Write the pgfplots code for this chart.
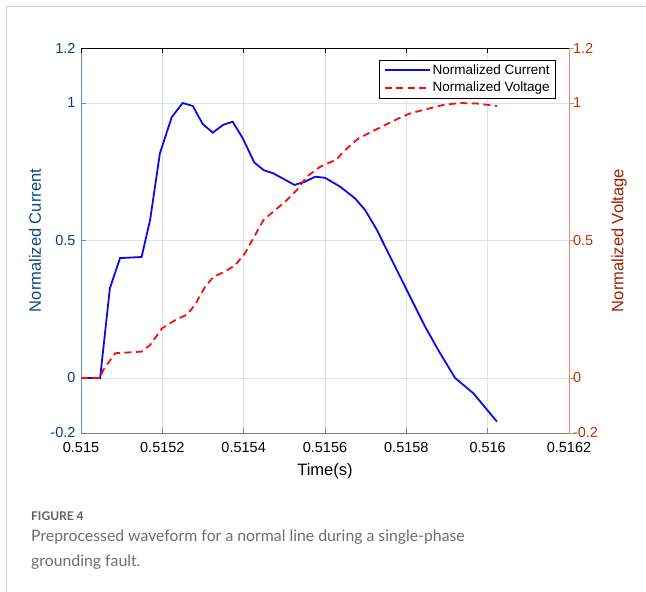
\documentclass[border=0pt]{standalone}
\usepackage{pgfplots}
\pgfplotsset{compat=1.18}
\usepackage{pgfplotstable}
\usepackage{fontspec}
\setmainfont{Liberation Sans}
\newfontfamily\capfont{Lato}

\definecolor{curblue}{RGB}{10,10,235}
\definecolor{volred}{RGB}{255,10,10}
\definecolor{lefttick}{RGB}{8,62,125}
\definecolor{leftlabel}{RGB}{10,72,125}
\definecolor{leftline}{RGB}{80,150,200}
\definecolor{righttick}{RGB}{185,55,5}
\definecolor{rightlabel}{RGB}{160,30,0}
\definecolor{rightline}{RGB}{225,140,100}
\definecolor{bottomline}{RGB}{120,128,136}
\definecolor{xgrid}{RGB}{222,226,232}
\definecolor{ygrid}{RGB}{210,230,242}
\definecolor{framegray}{RGB}{210,210,210}
\definecolor{capgray}{RGB}{110,110,110}
\definecolor{figgray}{RGB}{95,95,95}

% time in microseconds after 0.515 s
\pgfplotstableread{
t v
0 0
47 0
71 0.326
96 0.436
149 0.440
170 0.575
194 0.817
223 0.948
250 1.000
275 0.989
299 0.924
324 0.892
349 0.920
373 0.932
398 0.871
426 0.784
449 0.756
473 0.744
498 0.724
525 0.702
551 0.714
576 0.732
600 0.728
637 0.696
674 0.653
699 0.610
727 0.540
764 0.430
801 0.320
846 0.187
883 0.090
920 0.000
965 -0.056
1023 -0.159
}\current

\pgfplotstableread{
t v
0 0
47 0
55 0.030
84 0.090
149 0.096
170 0.120
199 0.180
231 0.210
260 0.230
280 0.265
305 0.332
326 0.368
354 0.387
379 0.410
403 0.453
432 0.530
449 0.575
473 0.605
502 0.641
531 0.684
555 0.732
588 0.768
629 0.795
645 0.823
682 0.871
715 0.896
748 0.920
781 0.944
809 0.962
850 0.978
891 0.993
932 1.000
973 0.998
1023 0.989
}\voltage

\begin{document}
\begin{tikzpicture}[x=1pt,y=1pt]
\useasboundingbox (0,0) rectangle (646,592);
\draw[framegray, line width=1pt] (6,0) -- (6,585) -- (646,585);

\begin{axis}[
  at={(81pt,159pt)}, anchor=south west,
  scale only axis, width=488pt, height=385pt,
  xmin=0, xmax=1200, ymin=-0.2, ymax=1.2,
  axis x line*=bottom, axis y line*=left,
  every outer x axis line/.append style={-, draw=bottomline, line width=0.8pt},
  every outer y axis line/.append style={-, draw=leftline, line width=0.8pt},
  xtick={0,200,400,600,800,1000,1200},
  xticklabels={0.515,0.5152,0.5154,0.5156,0.5158,0.516,0.5162},
  ytick={-0.2,0,0.5,1,1.2},
  yticklabels={-0.2,0,0.5,1,1.2},
  tick align=inside, major tick length=5pt,
  x tick style={draw=bottomline, line width=0.6pt},
  y tick style={draw=leftline, line width=0.6pt},
  xticklabel style={font=\fontsize{14.5}{16}\selectfont, text=black, yshift=-6pt},
  yticklabel style={font=\fontsize{14.5}{16}\selectfont, text=lefttick, xshift=-2pt},
  grid=major,
  x grid style={xgrid, line width=0.8pt},
  y grid style={ygrid, line width=0.8pt},
  xlabel={Time(s)},
  xlabel style={at={(axis description cs:0.5,-0.0987)}, anchor=center, font=\fontsize{16.5}{19}\selectfont, text=black},
  ylabel={Normalized Current},
  ylabel style={at={(axis description cs:-0.0943,0.5)}, anchor=center, rotate=0, font=\fontsize{16.5}{19}\selectfont, text=leftlabel},
]
\end{axis}

\begin{axis}[
  at={(81pt,159pt)}, anchor=south west,
  scale only axis, width=488pt, height=385pt,
  xmin=0, xmax=1200, ymin=-0.2, ymax=1.2,
  axis x line*=top, axis y line*=right,
  every outer x axis line/.append style={-, draw=black, line width=0.8pt},
  every outer y axis line/.append style={-, draw=rightline, line width=0.8pt},
  xtick={0,200,400,600,800,1000,1200},
  xticklabels={},
  ytick={-0.2,0,0.5,1,1.2},
  yticklabels={-0.2,0,0.5,1,1.2},
  tick align=inside, major tick length=5pt,
  x tick style={draw=black, line width=0.6pt},
  y tick style={draw=rightline, line width=0.6pt, xshift=5pt},
  yticklabel style={font=\fontsize{14.5}{16}\selectfont, text=righttick, xshift=0.5pt},
  ylabel={Normalized Voltage},
  ylabel style={at={(axis description cs:1.1025,0.5)}, anchor=center, rotate=0, font=\fontsize{16.5}{19}\selectfont, text=rightlabel},
  legend style={at={(axis description cs:0.9734,0.9688)}, anchor=north east,
    draw=black, line width=0.7pt, fill=white,
    font=\fontsize{13.5}{15}\selectfont, inner xsep=4pt, inner ysep=2.5pt,
    row sep=2pt},
  legend cell align=left,
  legend image code/.code={\draw[#1, line width=2pt] (0pt,0pt) -- (45pt,0pt);},
]
\addplot[curblue, line width=1.8pt] table[x=t,y=v]{\current};
\addlegendentry{Normalized Current}
\addplot[volred, line width=1.8pt, dash pattern=on 7pt off 4.5pt] table[x=t,y=v]{\voltage};
\addlegendentry{Normalized Voltage}
\end{axis}

\node[anchor=base west, inner sep=0pt, text=figgray, font=\capfont\bfseries\fontsize{12}{15}\selectfont] at (31,71) {FIGURE 4};
\node[anchor=base west, inner sep=0pt, text=capgray, font=\capfont\fontsize{15.8}{20}\selectfont] at (31,50) {Preprocessed waveform for a normal line during a single-phase};
\node[anchor=base west, inner sep=0pt, text=capgray, font=\capfont\fontsize{15.8}{20}\selectfont] at (31,25) {grounding fault.};
\end{tikzpicture}
\end{document}
